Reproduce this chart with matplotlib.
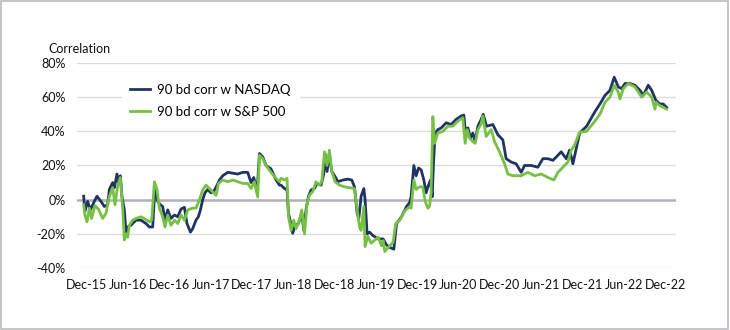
import numpy as np
import matplotlib.pyplot as plt
from matplotlib.patches import Rectangle

# 90 business-day rolling correlation, dates as decimal years, values in %
nasdaq_t = [2015.881, 2015.896, 2015.929, 2015.962, 2016.010, 2016.042, 2016.090, 2016.131, 2016.171, 2016.192,
            2016.232, 2016.252, 2016.284, 2016.301, 2016.325, 2016.344, 2016.373, 2016.393, 2016.413, 2016.453,
            2016.514, 2016.574, 2016.635, 2016.676, 2016.716, 2016.744, 2016.777, 2016.809, 2016.837, 2016.865,
            2016.898, 2016.938, 2016.979, 2017.019, 2017.059, 2017.100, 2017.131, 2017.173, 2017.200, 2017.240,
            2017.269, 2017.294, 2017.321, 2017.349, 2017.382, 2017.422, 2017.463, 2017.495, 2017.524, 2017.564,
            2017.624, 2017.685, 2017.745, 2017.806, 2017.866, 2017.906, 2017.939, 2017.979, 2018.008, 2018.048,
            2018.088, 2018.148, 2018.209, 2018.250, 2018.269, 2018.311, 2018.342, 2018.359, 2018.383, 2018.411,
            2018.439, 2018.480, 2018.520, 2018.544, 2018.572, 2018.601, 2018.633, 2018.674, 2018.705, 2018.754,
            2018.786, 2018.802, 2018.826, 2018.855, 2018.883, 2018.923, 2018.956, 2019.016, 2019.077, 2019.125,
            2019.158, 2019.190, 2019.210, 2019.238, 2019.271, 2019.286, 2019.311, 2019.340, 2019.380, 2019.444,
            2019.504, 2019.546, 2019.585, 2019.634, 2019.667, 2019.727, 2019.788, 2019.828, 2019.843, 2019.876,
            2019.904, 2019.933, 2019.964, 2019.997, 2020.025, 2020.046, 2020.078, 2020.098, 2020.115, 2020.134,
            2020.167, 2020.207, 2020.267, 2020.328, 2020.388, 2020.449, 2020.481, 2020.497, 2020.530, 2020.562,
            2020.590, 2020.618, 2020.651, 2020.691, 2020.715, 2020.756, 2020.832, 2020.893, 2020.953, 2020.993,
            2021.054, 2021.114, 2021.175, 2021.216, 2021.296, 2021.377, 2021.438, 2021.498, 2021.559, 2021.619,
            2021.659, 2021.720, 2021.761, 2021.801, 2021.841, 2021.882, 2021.967, 2022.067, 2022.128, 2022.188,
            2022.249, 2022.301, 2022.350, 2022.391, 2022.431, 2022.491, 2022.552, 2022.612, 2022.652, 2022.713,
            2022.754, 2022.806, 2022.854, 2022.894, 2022.935]
nasdaq_v = [2, -7, -1, -6, -1, 2, -1, -4, -3, 6,
            10, 7, 15, 10, 14, 2, -6, -19, -16, -15,
            -12, -12, -14, -16, -16, 7.6, -1, -3, -4, -12,
            -6, -11, -9, -10, -5.5, -4.5, -14, -19, -17, -12,
            -10, -6, 0, 4, 6, 4, 5.5, 8.5, 11.5, 14,
            16, 15.5, 15, 16, 16, 10, 13, 4.5, 27, 25,
            20, 18, 11.5, 8.5, 8.5, 6.5, 5.7, -8, -13, -19.7,
            -15, -14, -8, -18, -6, 2, 5.7, 6.5, 9.5, 8.5,
            15, 27, 16.5, 26, 16.5, 13.5, 10.5, 11.5, 12, 11.5,
            7.5, -8, -11, 2, 6.5, 0, -20, -19, -21, -23,
            -23, -26.5, -28, -29, -14, -10, -4, -1.5, 2, 20,
            14, 18.5, 17.5, 11.5, 4, 7.5, 11.5, 1.7, 22.5, 39,
            41, 42, 45, 44, 47, 49, 49.5, 41, 42, 36,
            39, 34, 43, 47, 50, 43, 44, 38, 35, 24,
            22, 21, 16, 20, 20, 19, 24, 24, 23, 26,
            28, 24, 29, 21, 30, 39, 43, 51.5, 56, 61,
            64, 71.7, 66, 65, 68, 68, 67, 64, 61, 67,
            64, 58, 56, 56, 54]

sp500_t = [2015.881, 2015.896, 2015.921, 2015.950, 2015.977, 2016.017, 2016.059, 2016.111, 2016.151, 2016.192,
           2016.232, 2016.260, 2016.292, 2016.325, 2016.353, 2016.373, 2016.393, 2016.413, 2016.434, 2016.474,
           2016.514, 2016.574, 2016.635, 2016.676, 2016.704, 2016.737, 2016.768, 2016.797, 2016.837, 2016.865,
           2016.898, 2016.938, 2016.979, 2017.019, 2017.059, 2017.100, 2017.140, 2017.200, 2017.240, 2017.282,
           2017.321, 2017.361, 2017.403, 2017.443, 2017.483, 2017.512, 2017.564, 2017.624, 2017.685, 2017.745,
           2017.806, 2017.866, 2017.906, 2017.947, 2017.987, 2018.008, 2018.048, 2018.088, 2018.148, 2018.209,
           2018.250, 2018.269, 2018.311, 2018.342, 2018.359, 2018.391, 2018.423, 2018.451, 2018.492, 2018.520,
           2018.553, 2018.584, 2018.613, 2018.653, 2018.693, 2018.734, 2018.762, 2018.795, 2018.826, 2018.855,
           2018.883, 2018.923, 2018.976, 2019.037, 2019.098, 2019.158, 2019.190, 2019.219, 2019.238, 2019.271,
           2019.286, 2019.319, 2019.359, 2019.408, 2019.444, 2019.485, 2019.504, 2019.525, 2019.565, 2019.625,
           2019.658, 2019.707, 2019.767, 2019.828, 2019.843, 2019.876, 2019.904, 2019.945, 2019.985, 2020.013,
           2020.046, 2020.066, 2020.085, 2020.106, 2020.127, 2020.167, 2020.227, 2020.288, 2020.348, 2020.409,
           2020.469, 2020.497, 2020.521, 2020.550, 2020.590, 2020.618, 2020.651, 2020.691, 2020.711, 2020.751,
           2020.812, 2020.853, 2020.913, 2020.974, 2021.014, 2021.075, 2021.175, 2021.256, 2021.337, 2021.417,
           2021.498, 2021.571, 2021.619, 2021.680, 2021.740, 2021.780, 2021.821, 2021.882, 2021.967, 2022.067,
           2022.128, 2022.188, 2022.249, 2022.301, 2022.350, 2022.370, 2022.410, 2022.471, 2022.552, 2022.633,
           2022.693, 2022.754, 2022.794, 2022.806, 2022.854, 2022.935]
sp500_v = [-3, -9, -13, -5, -11, -3.5, -5.5, -11, -8, 2,
           7, -3, 8, 13, -5, -23.6, -20, -22, -15, -12,
           -11, -10, -11.6, -13, -12, 10.5, 6, -5, -10, -16,
           -9, -15, -12, -14, -9, -12, -6, -5, -5, 0,
           5.7, 8.5, 6.5, 4.5, 2.5, 9.5, 11.5, 10.5, 11.5, 10.5,
           9.5, 9.5, 6.5, 10.5, 1.5, 26, 24, 20, 16, 12.5,
           10.5, 12.5, 11.5, 12.5, -10, -18, -12, -17, -12, -6,
           -20, -2, 2.7, 4.7, 10.5, 8.5, 10.5, 28, 20, 29,
           16.5, 10.5, 8.5, 7.5, 7, 6.5, -6, -16, -18, -4,
           -27.5, -21.5, -25.5, -23.5, -22, -27, -24, -30.4, -28, -25,
           -14, -12, -6.5, -4, -5, 11.5, 6, 7.5, 7.5, -1,
           -5, -4, 4, 48.6, 33, 39, 40, 43, 43, 46,
           48, 33, 41, 36, 34, 33, 41, 44.5, 49, 37,
           41, 34, 28, 21, 15, 14, 14, 16, 14, 15,
           13, 11.5, 16, 19, 22, 29, 32, 39.5, 40, 46,
           50, 57, 60, 67, 63, 59, 65, 68, 66, 60,
           63, 60, 53, 57, 55, 53]

tick_labels = ['Dec-15', 'Jun-16', 'Dec-16', 'Jun-17', 'Dec-17', 'Jun-18', 'Dec-18', 'Jun-19',
               'Dec-19', 'Jun-20', 'Dec-20', 'Jun-21', 'Dec-21', 'Jun-22', 'Dec-22']
tick_pos = 2015 + 11 / 12 + 0.5 * np.arange(len(tick_labels))

plt.rcParams['font.family'] = ['Lato', 'DejaVu Sans']

fig = plt.figure(figsize=(7.3, 3.3), dpi=100)
fig.patches.append(Rectangle((0.001, 0.002), 0.996, 0.996, transform=fig.transFigure,
                             fill=False, edgecolor='#b8bcc0', lw=1.2))

ax = fig.add_axes([0.105, 0.188, 0.821, 0.621])
ax.plot(nasdaq_t, nasdaq_v, color='#1f3464', lw=2, label='90 bd corr w NASDAQ', zorder=3)
ax.plot(sp500_t, sp500_v, color='#76c043', lw=2, label='90 bd corr w S&P 500', zorder=4)

ax.set_xlim(2015.796, 2023.048)
ax.set_ylim(-40, 80)
ax.set_yticks(np.arange(-40, 81, 20))
ax.set_yticklabels(['%d%%' % v for v in np.arange(-40, 81, 20)])
ax.set_xticks(tick_pos)
ax.set_xticklabels(tick_labels)
ax.tick_params(length=0, labelsize=9, colors='#111111')
ax.tick_params(axis='x', pad=8)
ax.tick_params(axis='y', pad=8)
ax.grid(axis='y', color='#dcdcdc', lw=1)
ax.axhline(0, color='#b0b4b8', lw=1.8, zorder=2)
for s in ax.spines.values():
    s.set_visible(False)

fig.text(0.066, 0.84, 'Correlation', fontsize=9, color='#111111')

leg = ax.legend(loc='upper left', bbox_to_anchor=(0.065, 0.97), frameon=True, fontsize=9.5,
                handlelength=1.5, handletextpad=0.55, labelspacing=0.75, borderpad=0.6)
leg.get_frame().set_facecolor('white')
leg.get_frame().set_edgecolor('white')
leg.get_frame().set_alpha(1)

plt.savefig('out.png', dpi=100)
